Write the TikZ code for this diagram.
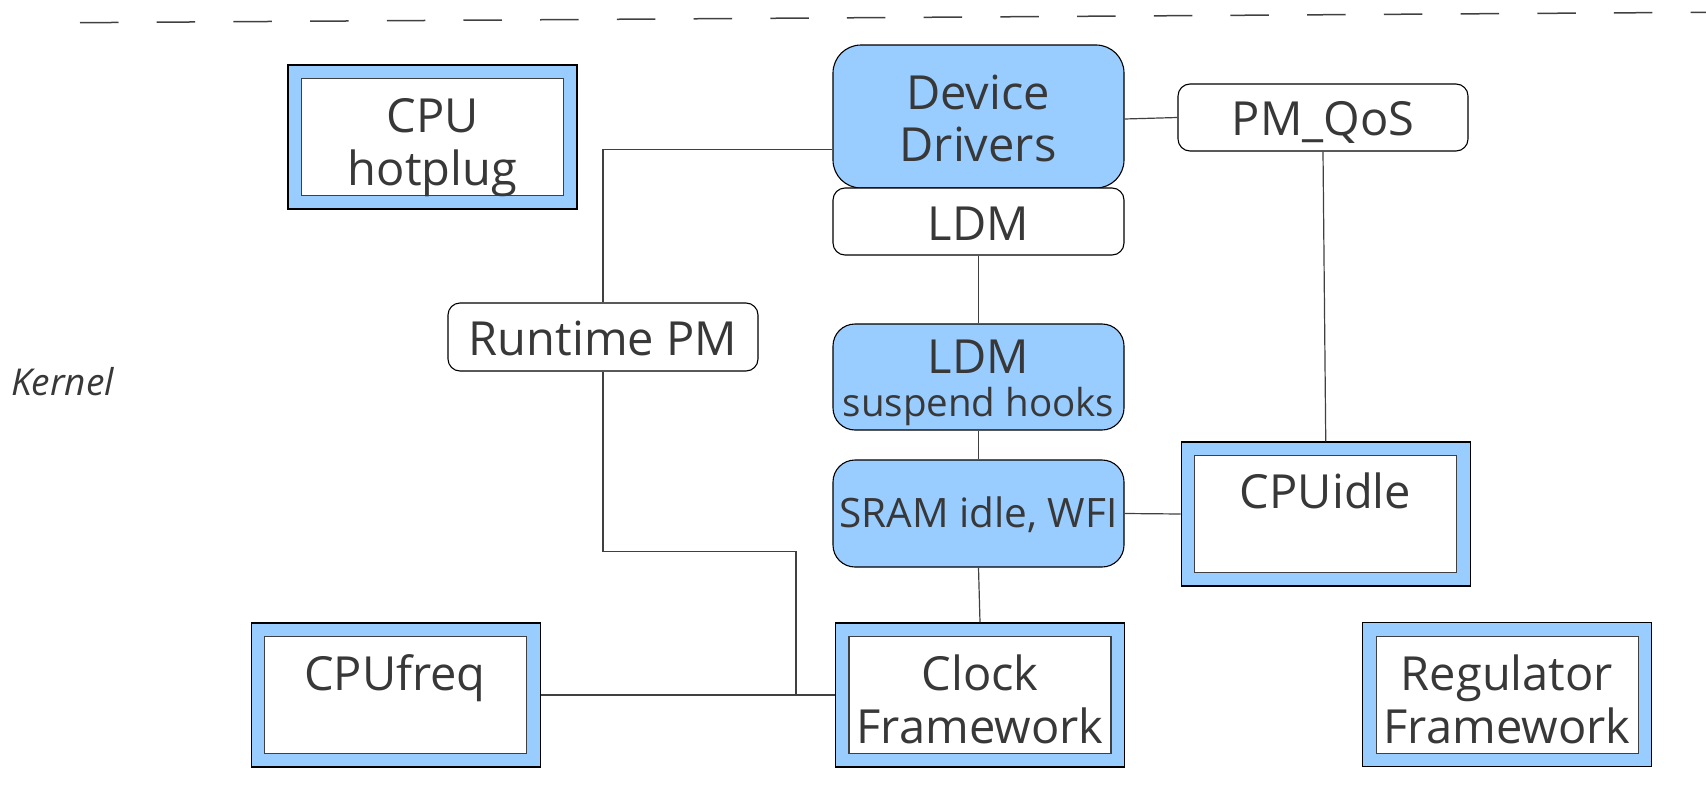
\documentclass[tikz,border=0pt]{standalone}
\usepackage{fontspec}
\setmainfont{Open Sans}
\usetikzlibrary{calc}
\definecolor{boxblue}{HTML}{99CCFF}
\definecolor{txt}{HTML}{383838}
\definecolor{wirecol}{HTML}{404040}

\begin{document}
\begin{tikzpicture}[x=1pt,y=-1pt,
  wire/.style={draw=wirecol, line width=1.2pt},
  frame/.style={rectangle, draw=black, line width=1.2pt, fill=boxblue,
    minimum width=289pt, minimum height=144pt, inner sep=0pt},
  pane/.style={rectangle, draw=black!75, line width=1.1pt, fill=white,
    minimum width=262pt, minimum height=117pt, inner sep=0pt},
  pill/.style={rectangle, draw=black, line width=1.1pt, rounded corners=12pt,
    fill=white, inner sep=0pt},
  bluepill/.style={pill, fill=boxblue, rounded corners=22pt},
  lbl/.style={text=txt, font=\fontsize{47}{52.5}\selectfont, anchor=base, inner sep=0pt},
  smalllbl/.style={lbl, font=\fontsize{40.5}{45}\selectfont},
]
\useasboundingbox (0,0) rectangle (1706,795);

% separator between user space and kernel
\coordinate (sepL) at (80,22.7);
\coordinate (sepR) at (1706,12.3);
\draw[wire, line width=1.5pt, dash pattern=on 38.5pt off 38.2pt] (sepL) -- (sepR);

\node[anchor=base west, text=txt, font=\fontsize{37}{42}\selectfont\itshape, inner sep=0pt]
  (kernel) at (11,395.7) {Kernel};

% framed subsystems
\node[frame] (hotplug) at (432.5,137) {};
\node[pane] (hotplug-in) at (hotplug) {};
\node[lbl] (hotplug-a) at (432.5,132.7) {CPU};
\node[lbl] (hotplug-b) at (432.5,185.2) {hotplug};

\node[frame] (idle) at (1325.75,514) {};
\node[pane] (idle-in) at (idle) {};
\node[lbl] (idle-a) at (1325.5,508) {CPUidle};

\node[frame] (cpufreq) at (395.75,695) {};
\node[pane] (cpufreq-in) at (cpufreq) {};
\node[lbl] (cpufreq-a) at (395,690) {CPUfreq};

\node[frame] (clock) at (980,695) {};
\node[pane] (clock-in) at (clock) {};
\node[lbl] (clock-a) at (980,690.7) {Clock};
\node[lbl] (clock-b) at (980,743) {Framework};

\node[frame] (reg) at (1507.3,694.7) {};
\node[pane] (reg-in) at (reg) {};
\node[lbl] (reg-a) at (1507,690.7) {Regulator};
\node[lbl] (reg-b) at (1507,743.5) {Framework};

% driver stack
\node[bluepill, rounded corners=28pt, minimum width=291pt, minimum height=143pt]
  (dd) at (978.5,116.5) {};
\node[lbl] (dd-a) at (978,109.3) {Device};
\node[lbl] (dd-b) at (978,161.7) {Drivers};

\node[pill, minimum width=291pt, minimum height=67pt] (ldm) at (978.5,221.5) {};
\node[lbl] (ldm-a) at (978.5,240) {LDM};

\node[bluepill, minimum width=291pt, minimum height=106pt] (susp) at (978.5,377) {};
\node[lbl] (susp-a) at (978.5,373.3) {LDM};
\node[smalllbl, font=\fontsize{38.5}{45}\selectfont] (susp-b) at (978.5,416.7) {suspend hooks};

\node[bluepill, minimum width=291pt, minimum height=107pt] (sram) at (978.5,513.5) {};
\node[smalllbl] (sram-a) at (978.5,527.7) {SRAM idle, WFI};

\node[pill, minimum width=290pt, minimum height=67pt] (pmqos) at (1323,117.5) {};
\node[lbl] (pmqos-a) at (1323,135) {PM\_QoS};

\node[pill, minimum width=310pt, minimum height=68pt] (rpm) at (603,337) {};
\node[lbl] (rpm-a) at (603,355) {Runtime PM};

% connections
\draw[wire] (rpm.north) |- ([yshift=-32.8pt]dd.west);
\draw[wire] ([yshift=-2.5pt]dd.east) -- (pmqos.west);
\draw[wire] (pmqos.south) -- (idle.north);
\draw[wire] (ldm.south) -- (susp.north);
\draw[wire] (susp.south) -- (sram.north);
\draw[wire] (sram.east) -- (idle.west);
\draw[wire] (sram.south) -- (clock.north);
\draw[wire] (cpufreq.east) -- (clock.west);
\coordinate (bend) at (796,551.6);
\draw[wire] (rpm.south) |- (bend) -- (bend |- clock.west);
\end{tikzpicture}
\end{document}
